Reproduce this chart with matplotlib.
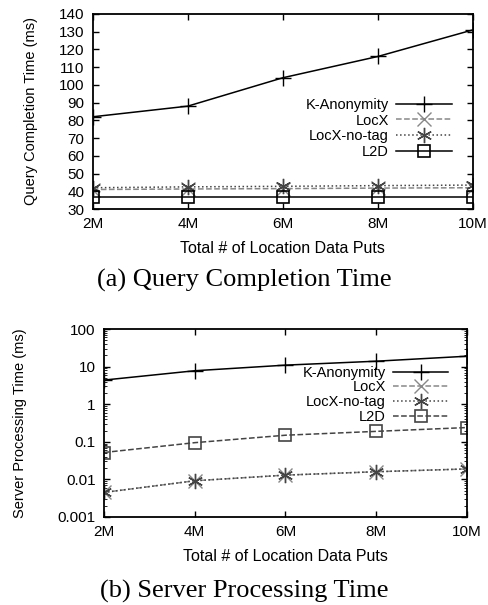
import numpy as np
import matplotlib
matplotlib.use("Agg")
import matplotlib.pyplot as plt
from matplotlib.ticker import FixedLocator, LogLocator, NullFormatter

plt.rcParams['font.family'] = ['Liberation Sans', 'DejaVu Sans']

# data
puts = [2, 4, 6, 8, 10]
put_labels = ['2M', '4M', '6M', '8M', '10M']

qct_kanon = [82, 88, 104, 116, 131]
qct_locx = [41, 41.3, 41.5, 41.8, 42]
qct_locx_notag = [42, 42.5, 42.8, 43.2, 43.5]
qct_l2d = [37, 37, 37, 37, 37]

spt_kanon = [4.4, 7.8, 11, 14, 19]
spt_locx = [0.0045, 0.0092, 0.013, 0.016, 0.019]
spt_locx_notag = [0.0045, 0.0092, 0.013, 0.016, 0.019]
spt_l2d = [0.052, 0.095, 0.15, 0.19, 0.24]

names = ['K-Anonymity', 'LocX', 'LocX-no-tag', 'L2D']
styles = [
    dict(color='black', ls='-', marker='+', ms=11, mew=1.0),
    dict(color='#888888', ls='--', marker='x', ms=10, mew=1.0),
    dict(color='#444444', ls=':', marker=(6, 2, 0), ms=11, mew=1.0),
    dict(color='black', ls='-', marker='s', ms=9, mew=1.2, mfc='none'),
]

fig = plt.figure(figsize=(4.88, 6.05), dpi=100)
ax1 = fig.add_axes([0.19, 0.6545, 0.779, 0.3225])
ax2 = fig.add_axes([0.213, 0.1455, 0.744, 0.3105])

for vals, name, st in zip([qct_kanon, qct_locx, qct_locx_notag, qct_l2d], names, styles):
    ax1.plot(puts, vals, label=name, lw=1.1, **st)

st_b = [dict(s) for s in styles]
st_b[3]['color'] = '#444444'
st_b[3]['ls'] = '--'
for vals, name, st in zip([spt_kanon, spt_locx, spt_locx_notag, spt_l2d], names, st_b):
    ax2.plot(puts, vals, label=name, lw=1.1, **st)

ax1.set_xlim(2, 10)
ax1.set_ylim(30, 140)
ax1.yaxis.set_major_locator(FixedLocator(np.arange(30, 141, 10)))
ax1.set_ylabel('Query Completion Time (ms)', fontsize=10.5, labelpad=15)

ax2.set_xlim(2, 10)
ax2.set_yscale('log')
ax2.set_ylim(0.001, 100)
ax2.yaxis.set_major_locator(FixedLocator([0.001, 0.01, 0.1, 1, 10, 100]))
ax2.set_yticklabels(['0.001', '0.01', '0.1', '1', '10', '100'])
ax2.yaxis.set_minor_locator(LogLocator(subs=np.arange(2, 10)))
ax2.yaxis.set_minor_formatter(NullFormatter())
ax2.set_ylabel('Server Processing Time (ms)', fontsize=10.5, labelpad=22)

for ax, lx, ly, sp_ in ((ax1, 0.96, 0.60, 0.12), (ax2, 0.965, 0.836, 0.05)):
    ax.set_xticks(puts)
    ax.set_xticklabels(put_labels)
    ax.set_xlabel('Total # of Location Data Puts', fontsize=11.5, labelpad=7)
    ax.tick_params(direction='in', top=True, right=True, labelsize=11, length=4, width=1, pad=6)
    ax.tick_params(which='minor', direction='in', right=True, length=2)
    for sp in ax.spines.values():
        sp.set_linewidth(1.3)
    ax.legend(loc='upper right', bbox_to_anchor=(lx, ly),
              markerfirst=False, frameon=False, fontsize=10.5, handlelength=3.8,
              labelspacing=sp_, borderaxespad=0.0, handletextpad=0.5)

fig.text(0.5, 0.536, '(a) Query Completion Time', ha='center', va='center',
         fontsize=19, family=['Liberation Serif', 'DejaVu Serif'])
fig.text(0.5, 0.022, '(b) Server Processing Time', ha='center', va='center',
         fontsize=19, family=['Liberation Serif', 'DejaVu Serif'])

fig.savefig('out.png', dpi=100)
